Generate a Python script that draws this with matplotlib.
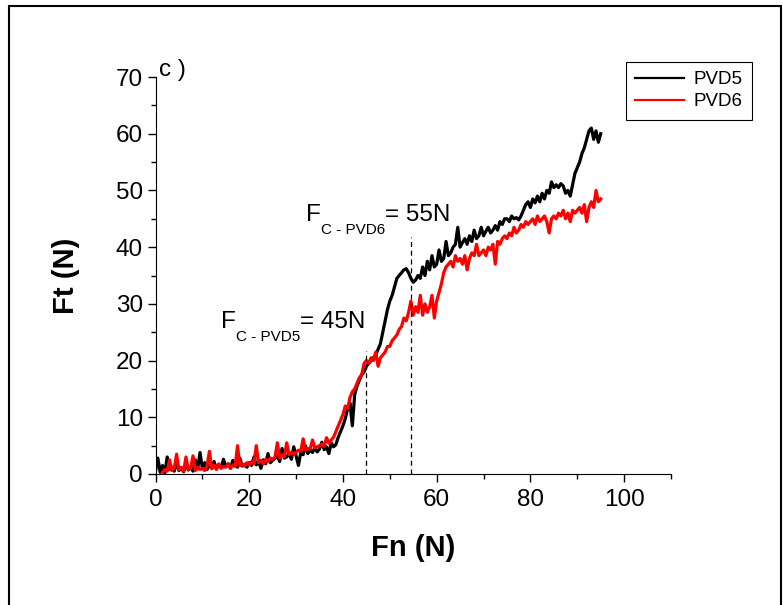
import numpy as np
import matplotlib
matplotlib.use('Agg')
import matplotlib.pyplot as plt
from matplotlib.patches import Rectangle

plt.rcParams['font.family'] = ['Liberation Sans', 'DejaVu Sans']

# Fn sampling grid (N), readings every 0.5 N
fn = np.arange(0, 95.5, 0.5)

# Ft (N)
ft_pvd5 = [
    0.5, 2.8, 0.3, 1.5, 0.2, 3.0, 0.8, 1.2, 0.5, 2.0,
    0.6, 1.0, 0.4, 1.8, 0.7, 1.2, 0.5, 2.5, 0.9, 3.8,
    1.0, 2.0, 0.8, 1.5, 1.2, 2.2, 0.9, 1.6, 1.1, 2.6,
    1.3, 1.8, 1.0, 2.4, 1.5, 1.2, 2.8, 1.4, 1.7, 1.2,
    2.0, 1.5, 3.0, 1.6, 2.2, 1.0, 2.5, 1.8, 3.6, 2.0,
    2.4, 2.8, 3.2, 2.2, 4.5, 2.8, 3.0, 3.6, 2.6, 4.8,
    3.2, 1.5, 3.8, 3.4, 5.0, 3.6, 4.2, 3.8, 4.6, 3.9,
    4.4, 5.6, 4.3, 4.8, 3.6, 5.5, 4.8, 5.2, 6.5, 7.5,
    8.5, 9.8, 11.5, 12.5, 8.5, 14.0, 15.5, 16.5, 17.5, 18.0,
    19.0, 19.5, 20.0, 20.5, 21.0, 22.0, 23.0, 25.0, 27.0, 29.0,
    30.5, 31.5, 33.0, 34.5, 35.0, 35.5, 36.0, 36.2, 35.5, 34.5,
    33.8, 34.2, 35.0, 34.5, 36.5, 35.0, 37.5, 36.0, 38.5, 36.5,
    37.0, 39.5, 37.5, 38.0, 41.0, 38.5, 39.0, 40.0, 40.5, 43.5,
    40.0, 40.8, 41.5, 40.5, 42.0, 41.0, 43.0, 41.5, 42.0, 43.5,
    42.0, 42.8, 43.5, 42.5, 43.0, 43.8, 43.0, 44.5, 44.0, 45.0,
    45.0, 44.5, 45.5, 45.0, 45.2, 44.8, 45.5, 46.5, 47.5, 48.0,
    47.0, 48.5, 47.8, 49.0, 48.0, 49.5, 48.5, 50.0, 49.5, 51.5,
    50.5, 51.0, 50.5, 51.2, 50.8, 49.5, 50.0, 49.0, 51.0, 53.0,
    54.0, 55.0, 56.5, 57.5, 59.0, 60.5, 61.0, 59.0, 60.5, 58.5,
    60.0,
]

ft_pvd6 = [
    np.nan, np.nan, np.nan, 0.3, 0.8, 0.5, 2.5, 0.6, 1.0, 3.5,
    0.7, 1.2, 0.5, 3.0, 0.8, 1.0, 3.2, 0.6, 1.2, 0.8,
    1.0, 0.6, 1.4, 4.0, 0.9, 1.5, 0.8, 1.8, 1.0, 1.3,
    1.2, 1.8, 1.0, 1.6, 1.3, 5.0, 1.5, 1.8, 1.4, 2.0,
    1.6, 2.2, 1.8, 5.0, 2.0, 2.4, 1.8, 2.6, 2.2, 2.8,
    2.6, 3.0, 5.5, 2.8, 3.4, 3.0, 5.5, 3.4, 3.8, 3.6,
    3.8, 4.2, 4.0, 6.2, 4.2, 4.5, 4.4, 6.0, 4.6, 4.8,
    5.0, 5.3, 4.9, 6.4, 5.4, 6.0, 6.5, 7.5, 8.5, 9.5,
    10.5, 12.0, 11.5, 13.5, 14.5, 15.0, 16.0, 17.0, 17.5, 19.5,
    20.0, 19.5, 20.5, 20.0, 21.5, 19.0, 20.5, 21.0, 21.5, 22.5,
    22.5, 23.5, 24.0, 24.5, 25.5, 26.0, 27.5, 27.0, 28.5, 30.5,
    28.0, 29.5, 28.5, 31.5, 28.0, 30.0, 28.5, 29.5, 31.5, 27.5,
    30.5, 32.0, 33.5, 35.5, 36.5, 37.0, 37.5, 36.5, 38.5, 37.5,
    38.0, 37.0, 38.5, 36.0, 38.0, 39.0, 38.5, 40.5, 38.5, 39.0,
    39.5, 38.5, 40.0, 39.5, 40.5, 37.0, 41.0, 40.5, 41.5, 42.0,
    41.5, 42.5, 42.0, 43.5, 42.5, 43.0, 44.0, 43.5, 44.5, 44.0,
    44.5, 45.0, 44.0, 45.5, 44.5, 45.0, 45.5, 44.5, 42.5, 45.0,
    45.5, 45.0, 46.0, 45.5, 46.5, 45.0, 46.0, 44.5, 46.5, 46.0,
    46.5, 47.0, 46.0, 47.5, 44.5, 47.0, 48.0, 47.0, 50.0, 48.0,
    48.5,
]

# critical loads (N) and the dashed marker heights
fc_values = [45, 54.5]
fc_tops = [21.7, 41.8]

fig = plt.figure(figsize=(7.83, 6.05), dpi=100)
ax = fig.add_axes([155.5 / 783, 1 - 474 / 605, 515.5 / 783, 397 / 605])

ax.plot(fn, ft_pvd5, color='black', lw=2.3, label='PVD5')
ax.plot(fn, ft_pvd6, color='red', lw=2.3, label='PVD6')

for xv, top in zip(fc_values, fc_tops):
    ax.plot([xv, xv], [0, top], color='black', ls=(0, (4, 3)), lw=0.9)

ax.set_xlim(0, 110)
ax.set_ylim(0, 70)
ax.set_xticks([0, 20, 40, 60, 80, 100])
ax.set_xticks([10, 30, 50, 70, 90, 110], minor=True)
ax.set_yticks(range(0, 71, 10))
ax.set_yticks(range(5, 70, 10), minor=True)
ax.spines['top'].set_visible(False)
ax.spines['right'].set_visible(False)
ax.tick_params(which='major', direction='out', length=6, width=1,
               labelsize=17.5, pad=3)
ax.tick_params(which='minor', direction='out', length=3.5, width=1)
ax.tick_params(axis='x', which='major', pad=5)

ax.set_xlabel('Fn (N)', fontsize=21, fontweight='bold')
ax.xaxis.set_label_coords(0.5, -0.15)
ax.set_ylabel('Ft (N)', fontsize=21, fontweight='bold')
ax.yaxis.set_label_coords(-0.146, 0.5)

# annotations
ax.text(0.75, 70.2, 'c )', fontsize=17.5, va='baseline', ha='left', clip_on=False)
ax.text(32.1, 44.6, 'F', fontsize=17.5, va='baseline')
ax.text(35.3, 42.4, 'C - PVD6', fontsize=11, va='baseline')
ax.text(49.0, 44.6, '= 55N', fontsize=17.5, va='baseline')
ax.text(13.9, 25.7, 'F', fontsize=17.5, va='baseline')
ax.text(17.1, 23.5, 'C - PVD5', fontsize=11, va='baseline')
ax.text(30.8, 25.7, '= 45N', fontsize=17.5, va='baseline')

leg = fig.legend(loc='upper left', bbox_to_anchor=(626 / 783, 1 - 62 / 605),
                 fancybox=False, edgecolor='black', framealpha=1, fontsize=13.5,
                 borderaxespad=0, handlelength=2.6, borderpad=0.5,
                 labelspacing=0.25, handletextpad=0.5)
leg.get_frame().set_linewidth(0.8)
for line in leg.get_lines():
    line.set_linewidth(1.6)

# outer frame of the figure
fig.patches.append(Rectangle((9 / 783, -0.05), 772 / 783, 1.05 - 6 / 605,
                             transform=fig.transFigure, fill=False,
                             edgecolor='black', lw=1.5))

fig.savefig('out.png', dpi=100)
